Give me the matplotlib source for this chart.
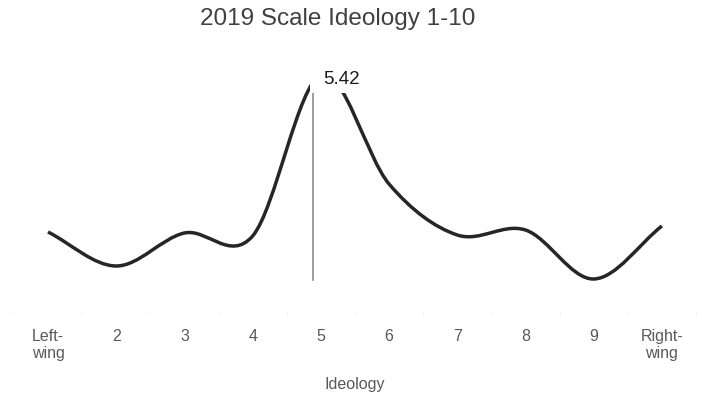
import numpy as np
import matplotlib.pyplot as plt
from matplotlib.path import Path
from matplotlib.patches import PathPatch, Rectangle

# Данные: шкала идеологии 1-10 (условные единицы)
ideology = [1, 2, 3, 4, 5, 6, 7, 8, 9, 10]
share = [8.3, 4.9, 8.2, 7.9, 24.0, 13.1, 8.0, 8.5, 3.6, 8.9]
tick_labels = ['Left-\nwing', '2', '3', '4', '5', '6', '7', '8', '9', 'Right-\nwing']
mean_value = 5.42
mean_line_x = 4.885
mean_line_bottom = 3.5

plt.rcParams['font.family'] = ['Liberation Sans', 'DejaVu Sans']


# Сглаженная линия (как в Excel): кривые Безье по точкам данных
def smooth_path(xs, ys):
    xs = np.asarray(xs, float)
    ys = np.asarray(ys, float)
    n = len(xs)
    m = np.zeros(n)
    m[1:-1] = (ys[2:] - ys[:-2]) / (xs[2:] - xs[:-2])
    m[0] = (ys[1] - ys[0]) / (xs[1] - xs[0])
    m[-1] = (ys[-1] - ys[-2]) / (xs[-1] - xs[-2])
    verts = [(xs[0], ys[0])]
    codes = [Path.MOVETO]
    for i in range(n - 1):
        dx = (xs[i + 1] - xs[i]) / 3
        verts += [(xs[i] + dx, ys[i] + m[i] * dx),
                  (xs[i + 1] - dx, ys[i + 1] - m[i + 1] * dx),
                  (xs[i + 1], ys[i + 1])]
        codes += [Path.CURVE4] * 3
    return Path(verts, codes)


fig = plt.figure(figsize=(7.08, 4.05), dpi=100)
ax = fig.add_axes([13.9 / 708, 1 - 315 / 405, (696 - 13.9) / 708, (315 - 55) / 405])

ax.add_patch(PathPatch(smooth_path(ideology, share), fill=False,
                       edgecolor='#262626', linewidth=2.5, capstyle='butt', zorder=3))

# Вертикальная линия среднего
ax.plot([mean_line_x, mean_line_x], [mean_line_bottom, max(share)],
        color='#8c8c8c', linewidth=1.2, zorder=2)

# Белая плашка под подписью
ax.add_patch(Rectangle((4.84, 22.2), 0.94, 3.2, facecolor='white',
                       edgecolor='none', zorder=4, clip_on=False))
ax.text(5.31, 23.55, f'{mean_value:.2f}', ha='center', va='center',
        fontsize=13.5, color='#1a1a1a', zorder=5, clip_on=False)

ax.set_xlim(0.5, 10.5)
ax.set_ylim(0, 26)
ax.set_xticks(ideology)
ax.set_xticklabels(tick_labels, fontsize=11.5, color='#595959', linespacing=1.2)
ax.set_xticks(np.arange(0.5, 11, 1), minor=True)
ax.tick_params(axis='x', which='major', length=0, pad=10)
ax.tick_params(axis='x', which='minor', length=3, color='#f3f3f3', direction='in')
ax.set_yticks([])
for s in ax.spines.values():
    s.set_visible(False)

ax.set_xlabel('Ideology', fontsize=11.5, color='#595959', labelpad=11)
fig.text(338 / 708, 1 - 19 / 405, '2019 Scale Ideology 1-10', ha='center', va='center',
         fontsize=17.5, color='#404040')

fig.savefig('out.png', dpi=100, facecolor='white')
